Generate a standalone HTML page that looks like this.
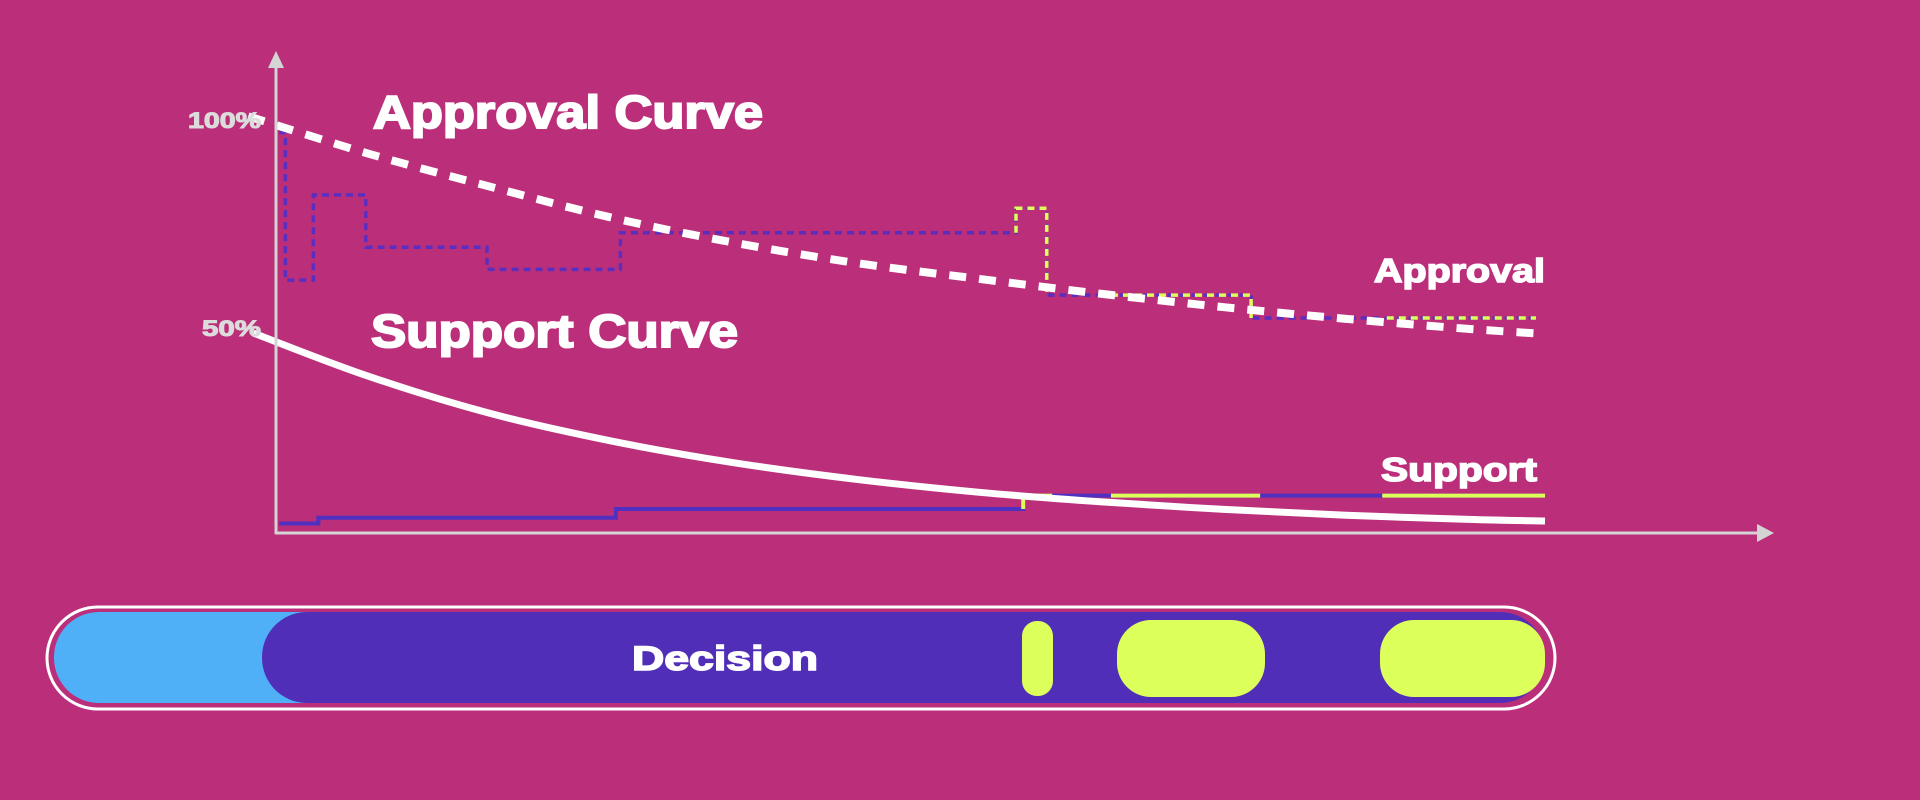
<!DOCTYPE html>
<html><head><meta charset="utf-8"><style>
html,body{margin:0;padding:0;background:#bb2e79;}
svg{display:block;}
text{font-family:"Liberation Sans",sans-serif;font-weight:bold;}
</style></head><body>
<svg id="chart" width="1920" height="800" viewBox="0 0 1920 800">
<rect x="0" y="0" width="1920" height="800" fill="#bb2e79"/>
<g id="plot"></g>
<line x1="276" y1="60" x2="276" y2="534" stroke="#d4d4d4" stroke-width="3"/>
<polygon points="268,68 284,68 276,51" fill="#d4d4d4"/>
<line x1="275" y1="533" x2="1760" y2="533" stroke="#d4d4d4" stroke-width="3"/>
<polygon points="1757,524 1757,542 1774,533" fill="#d4d4d4"/>
<text x="188" y="128" font-size="22" fill="#dcdcdc" stroke="#dcdcdc" stroke-width="1" textLength="73" lengthAdjust="spacingAndGlyphs">100%</text>
<text x="202" y="336" font-size="22" fill="#dcdcdc" stroke="#dcdcdc" stroke-width="1" textLength="59" lengthAdjust="spacingAndGlyphs">50%</text>
<text x="373" y="128" font-size="46" fill="#fff" stroke="#fff" stroke-width="2" textLength="390" lengthAdjust="spacingAndGlyphs">Approval Curve</text>
<text x="371" y="347" font-size="46" fill="#fff" stroke="#fff" stroke-width="2" textLength="367" lengthAdjust="spacingAndGlyphs">Support Curve</text>
<text x="1374" y="282" font-size="33" fill="#fff" stroke="#fff" stroke-width="1.5" textLength="171" lengthAdjust="spacingAndGlyphs">Approval</text>
<text x="1381" y="481" font-size="33" fill="#fff" stroke="#fff" stroke-width="1.5" textLength="156" lengthAdjust="spacingAndGlyphs">Support</text>

<g>
<rect x="47" y="607" width="1508" height="102" rx="51" fill="none" stroke="#fff" stroke-width="3"/>
<rect x="54" y="612" width="300" height="91" rx="45" fill="#4fb0f8"/>
<rect x="262" y="612" width="1283" height="91" rx="45" fill="#512eb8"/>
<text x="725" y="670" font-size="34" fill="#fff" stroke="#fff" stroke-width="1.5" text-anchor="middle" textLength="186" lengthAdjust="spacingAndGlyphs">Decision</text>
<rect x="1022" y="621" width="31" height="75" rx="15" fill="#dcff5c"/>
<rect x="1117" y="620" width="148" height="77" rx="34" fill="#dcff5c"/>
<rect x="1380" y="620" width="165" height="77" rx="34" fill="#dcff5c"/>
</g>
</svg>
<script>
// x: days (0..28), y: percent
const approvalDays = [-0.68, 1.95, 4.66, 7.37, 10.07, 12.78, 15.49, 18.2, 20.9, 23.6, 26.3, 27.95];
const approvalValues = [100.9, 92, 84, 76.5, 70.5, 65.6, 61.8, 58.2, 55, 52.2, 49.8, 48.6];
const supportDays = [-0.57, 1.95, 4.66, 7.37, 10.07, 12.78, 15.49, 18.2, 20.9, 23.6, 26.3, 28];
const supportValues = [48.8, 38.5, 29.5, 22.8, 17.6, 13.6, 10.5, 8.2, 6.4, 5.0, 4.0, 3.6];
const approvalStepDays = [0, 0.14, 0.76, 1.92, 4.6, 7.55, 16.3, 16.98, 21.5, 27.8];
const approvalStepValues = [97, 61.5, 82, 69.4, 64.1, 72.9, 78.8, 57.9, 52.4, 52.4];
const approvalYellowRanges = [[16.3, 16.98], [18.4, 21.5], [24.5, 27.8]];
const supportStepDays = [0, 0.87, 7.45, 16.46, 28];
const supportStepValues = [3, 4.4, 6.5, 9.7, 9.7];
const supportYellowRanges = [[16.46, 17.1], [18.4, 21.7], [24.4, 28]];

const X0 = 279, XPD = (1545 - 279) / 28, Y0 = 536, YPP = 4.16;
function xs(d){ return X0 + d * XPD; }
function ys(v){ return Y0 - v * YPP; }
const NS = 'http://www.w3.org/2000/svg';
const plot = document.getElementById('plot');

function smoothPath(days, vals){
  const p = days.map((d,i)=>[xs(d), ys(vals[i])]);
  let s = 'M' + p[0][0] + ',' + p[0][1];
  for (let i=0;i<p.length-1;i++){
    const p0=p[Math.max(0,i-1)], p1=p[i], p2=p[i+1], p3=p[Math.min(p.length-1,i+2)];
    const c1x=p1[0]+(p2[0]-p0[0])/6, c1y=p1[1]+(p2[1]-p0[1])/6;
    const c2x=p2[0]-(p3[0]-p1[0])/6, c2y=p2[1]-(p3[1]-p1[1])/6;
    s += ' C'+c1x+','+c1y+' '+c2x+','+c2y+' '+p2[0]+','+p2[1];
  }
  return s;
}
function stepPoints(days, vals){
  const pts = [];
  for (let i=0;i<days.length;i++){
    if (i>0) pts.push([days[i], vals[i-1]]);
    pts.push([days[i], vals[i]]);
  }
  return pts;
}
function stepPath(days, vals, lo, hi){
  const pts = stepPoints(days, vals);
  let s = '';
  let started = false;
  for (let i=0;i<pts.length-1;i++){
    const a=pts[i], b=pts[i+1];
    let d1=Math.max(a[0],lo), d2=Math.min(b[0],hi);
    if (a[0]===b[0]) { if (a[0]<lo||a[0]>hi) { started=false; continue; } d1=d2=a[0]; }
    else if (d1>d2) { started=false; continue; }
    if (!started){ s += 'M'+xs(d1)+','+ys(a[1]); started=true; }
    s += ' L'+xs(d2)+','+ys(b[1]);
  }
  return s;
}
function addPath(d, stroke, width, dash, name){
  const el = document.createElementNS(NS,'path');
  el.setAttribute('d', d);
  el.setAttribute('fill','none');
  el.setAttribute('stroke', stroke);
  el.setAttribute('stroke-width', width);
  if (dash) el.setAttribute('stroke-dasharray', dash);
  
  
  plot.appendChild(el);
}
addPath(stepPath(approvalStepDays, approvalStepValues, -1, 99), '#5a2fc0', 3.5, '7 5', 'approval-tally-line');
approvalYellowRanges.forEach(r=>{
  addPath(stepPath(approvalStepDays, approvalStepValues, r[0], r[1]), '#dcff5c', 3.5, '7 5', 'approval-tally-confirm');
});
addPath(stepPath(supportStepDays, supportStepValues, -1, 99), '#4f30c0', 4, null, 'support-tally-line');
supportYellowRanges.forEach(r=>{
  addPath(stepPath(supportStepDays, supportStepValues, r[0], r[1]), '#dcff5c', 4, null, 'support-tally-confirm');
});
addPath(smoothPath(approvalDays, approvalValues), '#ffffff', 8, '17 13', 'approval-curve');
addPath(smoothPath(supportDays, supportValues), '#ffffff', 7, null, 'support-curve');
</script>
</body></html>
